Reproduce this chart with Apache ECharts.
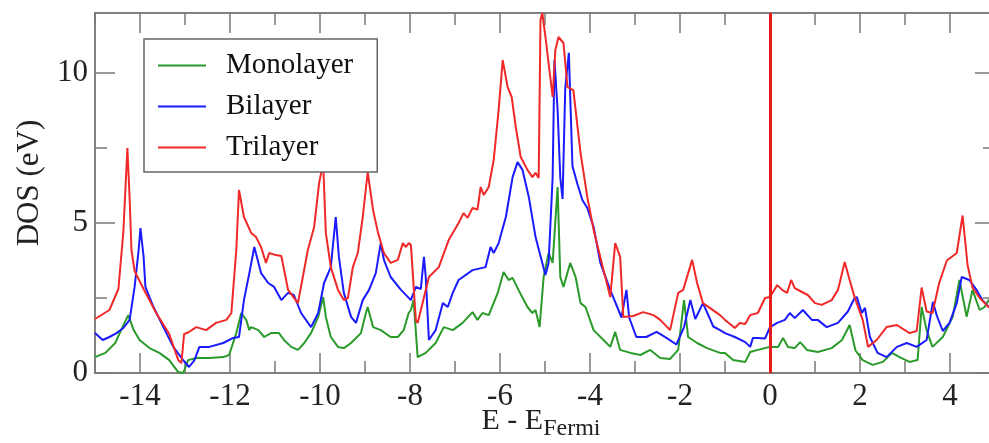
<!DOCTYPE html>
<html>
<head>
<meta charset="utf-8">
<script src="https://cdn.jsdelivr.net/npm/echarts@6/dist/echarts.min.js"></script>
<style>
  html, body { margin: 0; padding: 0; background: #fff; }
  #chart { width: 989px; height: 443px; }
</style>
</head>
<body>
<div id="chart"></div>
<script>
// DOS curves, [E - E_Fermi, DOS]
var monolayer = [
  [-15.0,0.53],[-14.77,0.67],[-14.55,1.0],[-14.39,1.53],[-14.26,1.93],[-14.14,1.43],[-14.01,1.1],[-13.79,0.83],
  [-13.57,0.67],[-13.35,0.43],[-13.15,0.03],[-13.04,0.0],[-12.93,0.43],[-12.75,0.5],[-12.46,0.5],[-12.15,0.53],
  [-12.02,0.6],[-11.86,1.33],[-11.75,2.0],[-11.64,1.77],[-11.57,1.43],[-11.53,1.53],[-11.37,1.43],[-11.24,1.2],
  [-11.09,1.33],[-10.91,1.33],[-10.80,1.1],[-10.64,0.87],[-10.49,0.77],[-10.35,1.0],[-10.20,1.33],[-10.04,1.87],
  [-9.93,2.53],[-9.87,1.87],[-9.76,1.2],[-9.60,0.87],[-9.47,0.83],[-9.31,1.0],[-9.09,1.33],[-8.98,2.0],[-8.94,2.2],
  [-8.82,1.53],[-8.65,1.43],[-8.43,1.2],[-8.27,1.2],[-8.14,1.43],[-8.03,2.0],[-7.98,2.1],[-7.92,2.43],[-7.83,0.53],
  [-7.65,0.67],[-7.43,1.0],[-7.25,1.53],[-7.05,1.43],[-6.83,1.67],[-6.61,2.03],[-6.50,1.77],[-6.39,2.0],[-6.25,1.93],
  [-6.05,2.67],[-5.92,3.37],[-5.81,3.1],[-5.72,3.17],[-5.59,2.77],[-5.39,2.2],[-5.28,2.0],[-5.21,2.1],[-5.12,1.53],
  [-5.03,3.2],[-4.92,4.0],[-4.83,3.67],[-4.72,6.2],[-4.66,3.2],[-4.59,2.87],[-4.44,3.67],[-4.32,3.2],[-4.21,2.33],
  [-4.10,2.2],[-3.92,1.43],[-3.70,1.1],[-3.55,0.87],[-3.44,1.37],[-3.33,0.77],[-3.10,0.67],[-2.88,0.6],[-2.66,0.77],
  [-2.44,0.5],[-2.22,0.47],[-2.04,0.77],[-1.91,2.43],[-1.82,1.2],[-1.62,1.0],[-1.40,0.83],[-1.11,0.67],[-1.0,0.67],
  [-0.82,0.43],[-0.55,0.37],[-0.44,0.7],[-0.27,0.77],[0,0.87],[0.18,0.87],[0.29,1.17],[0.40,0.87],[0.55,0.83],
  [0.67,1.03],[0.82,0.77],[1.06,0.7],[1.37,0.83],[1.60,1.1],[1.77,1.6],[1.90,0.75],[2.06,0.43],[2.28,0.27],
  [2.51,0.37],[2.71,0.67],[2.88,0.53],[3.10,0.37],[3.28,0.43],[3.37,2.2],[3.48,1.43],[3.61,0.87],[3.84,1.2],
  [4.06,1.87],[4.21,3.1],[4.37,1.87],[4.50,2.77],[4.66,2.1],[4.77,2.2],[4.86,2.43],[5.0,2.3]
];
var bilayer = [
  [-15.0,1.33],[-14.83,1.1],[-14.68,1.2],[-14.52,1.33],[-14.37,1.5],[-14.23,1.77],[-14.12,2.87],[-14.03,4.1],
  [-13.99,4.83],[-13.92,3.87],[-13.88,2.87],[-13.70,2.2],[-13.48,1.53],[-13.26,0.87],[-13.04,0.43],[-12.91,0.2],
  [-12.79,0.43],[-12.68,0.87],[-12.46,0.87],[-12.15,1.0],[-11.93,1.17],[-11.80,1.2],[-11.69,2.43],[-11.57,3.33],
  [-11.46,4.2],[-11.31,3.33],[-11.15,3.0],[-11.02,2.87],[-10.86,2.43],[-10.71,2.67],[-10.58,2.6],[-10.42,2.0],
  [-10.20,1.53],[-10.04,2.0],[-9.91,3.0],[-9.76,3.53],[-9.65,5.2],[-9.58,3.87],[-9.47,2.67],[-9.31,1.87],[-9.20,1.67],
  [-9.05,2.43],[-8.91,2.77],[-8.76,3.33],[-8.65,4.33],[-8.58,3.77],[-8.43,3.2],[-8.20,2.77],[-7.98,2.43],[-7.87,2.87],
  [-7.76,2.8],[-7.69,3.87],[-7.65,3.2],[-7.58,1.1],[-7.43,1.43],[-7.27,2.33],[-7.16,2.2],[-7.05,2.67],[-6.92,3.1],
  [-6.61,3.43],[-6.32,3.53],[-6.21,4.2],[-6.14,4.0],[-6.03,4.33],[-5.87,5.2],[-5.72,6.53],[-5.61,7.03],[-5.50,6.77],
  [-5.36,5.87],[-5.21,4.53],[-5.06,3.67],[-4.99,3.27],[-4.92,3.67],[-4.83,6.53],[-4.79,10.43],[-4.72,8.77],
  [-4.66,6.5],[-4.61,5.8],[-4.55,9.5],[-4.47,10.67],[-4.39,6.9],[-4.28,6.3],[-4.17,5.77],[-4.06,5.5],[-3.92,4.87],
  [-3.77,3.67],[-3.55,2.77],[-3.30,1.85],[-3.19,2.77],[-3.13,1.85],[-2.97,1.2],[-2.75,1.2],[-2.52,1.37],[-2.30,1.17],
  [-2.08,0.95],[-1.91,1.53],[-1.77,2.43],[-1.66,1.8],[-1.49,2.33],[-1.26,1.55],[-1.11,1.43],[-1.0,1.33],[-0.78,1.2],
  [-0.55,1.03],[-0.44,0.87],[-0.38,1.17],[-0.27,1.17],[-0.11,1.15],[0,1.53],[0.16,1.67],[0.33,1.77],[0.44,2.0],
  [0.55,1.83],[0.73,2.1],[0.93,1.77],[1.06,1.77],[1.26,1.53],[1.51,1.67],[1.73,2.05],[1.88,2.5],[1.93,2.53],
  [2.04,2.0],[2.11,2.17],[2.22,1.2],[2.39,0.67],[2.59,0.53],[2.82,0.87],[3.04,1.0],[3.26,0.87],[3.48,1.1],[3.62,2.37],
  [3.71,1.9],[3.84,1.4],[3.99,1.67],[4.15,2.33],[4.26,3.2],[4.43,3.1],[4.59,2.77],[4.72,2.43],[4.86,2.2],[5.0,2.1]
];
var trilayer = [
  [-15.0,1.8],[-14.68,2.1],[-14.48,2.8],[-14.37,4.7],[-14.28,7.5],[-14.23,5.8],[-14.19,4.1],[-14.12,3.4],[-13.92,2.8],
  [-13.64,2.0],[-13.35,1.3],[-13.15,0.43],[-13.08,0.33],[-13.02,1.3],[-12.93,1.35],[-12.75,1.53],[-12.53,1.43],
  [-12.31,1.67],[-12.08,1.77],[-11.97,2.0],[-11.86,4.1],[-11.80,6.1],[-11.69,5.2],[-11.53,4.67],[-11.42,4.53],
  [-11.31,4.2],[-11.20,3.67],[-11.13,4.0],[-10.98,3.93],[-10.86,3.9],[-10.71,2.77],[-10.49,2.33],[-10.27,4.1],
  [-10.13,4.87],[-10.02,6.33],[-9.93,7.0],[-9.87,4.67],[-9.76,3.53],[-9.60,2.77],[-9.47,2.43],[-9.38,2.5],[-9.27,3.53],
  [-9.16,4.0],[-9.05,5.2],[-8.94,6.7],[-8.82,5.43],[-8.71,4.67],[-8.58,4.0],[-8.43,3.67],[-8.27,3.77],[-8.16,4.33],
  [-8.09,4.2],[-8.03,4.33],[-7.98,4.27],[-7.94,4.3],[-7.87,1.77],[-7.83,1.67],[-7.72,2.33],[-7.58,3.2],[-7.36,3.53],
  [-7.14,4.43],[-6.92,5.0],[-6.81,5.33],[-6.72,5.17],[-6.61,5.5],[-6.50,5.45],[-6.43,6.2],[-6.36,5.93],[-6.25,6.2],
  [-6.14,7.1],[-6.03,8.77],[-5.94,10.43],[-5.83,9.53],[-5.74,9.2],[-5.65,8.2],[-5.54,7.2],[-5.39,6.77],[-5.28,6.53],
  [-5.21,6.67],[-5.14,6.5],[-5.10,11.77],[-5.06,12.0],[-4.99,11.2],[-4.83,9.2],[-4.77,10.77],[-4.70,11.2],[-4.59,11.0],
  [-4.50,9.53],[-4.37,9.43],[-4.21,7.33],[-4.06,5.87],[-3.92,4.77],[-3.70,3.43],[-3.55,2.53],[-3.44,4.33],[-3.33,3.87],
  [-3.26,1.87],[-3.04,1.9],[-2.82,2.03],[-2.59,1.93],[-2.44,1.77],[-2.22,1.43],[-2.04,2.67],[-1.93,2.77],[-1.73,3.77],
  [-1.62,3.0],[-1.49,2.33],[-1.11,1.93],[-1.0,1.77],[-0.78,1.5],[-0.67,1.67],[-0.55,1.63],[-0.44,1.93],[-0.27,2.0],
  [-0.11,2.5],[0,2.53],[0.16,2.93],[0.27,2.77],[0.38,2.67],[0.47,3.1],[0.55,2.83],[0.71,2.7],[0.84,2.6],[1.0,2.33],
  [1.15,2.27],[1.37,2.43],[1.51,2.77],[1.66,3.7],[1.77,3.1],[1.88,2.53],[2.06,1.77],[2.18,0.87],[2.37,1.1],[2.59,1.53],
  [2.82,1.6],[3.10,1.33],[3.26,1.4],[3.37,2.85],[3.48,2.05],[3.61,2.0],[3.76,3.0],[3.93,3.75],[4.15,4.0],[4.28,5.25],
  [4.39,3.6],[4.50,2.85],[4.66,2.5],[4.86,2.2],[5.0,2.1]
];
var seriesNames = ['Monolayer', 'Bilayer', 'Trilayer'];
var xMajor = [-14, -12, -10, -8, -6, -4, -2, 0, 2, 4];
var xMinor = [-15, -13, -11, -9, -7, -5, -3, -1, 1, 3, 5];
var yMajor = [0, 5, 10];
var yMinor = [2.5, 7.5];
var fermiLevel = 0;

var serif = 'Liberation Serif';
var frame = { color: '#7a7a7a', width: 1.5 };

// one axis for the long ticks, one for the short ones, on each side
function xAx(pos, ticks, len, labels) {
  return {
    type: 'value', min: -15, max: 5, position: pos,
    axisLine: { show: true, onZero: false, lineStyle: frame },
    axisTick: { show: true, inside: true, length: len, customValues: ticks, lineStyle: frame },
    axisLabel: labels ? { customValues: ticks, fontFamily: serif, fontSize: 31, color: '#222', margin: 8 } : { show: false },
    splitLine: { show: false }
  };
}
function yAx(pos, ticks, len, labels) {
  return {
    type: 'value', min: 0, max: 12, position: pos,
    axisLine: { show: true, onZero: false, lineStyle: frame },
    axisTick: { show: true, inside: true, length: len, customValues: ticks, lineStyle: frame },
    axisLabel: labels ? { customValues: ticks, fontFamily: serif, fontSize: 31, color: '#222', margin: 7 } : { show: false },
    splitLine: { show: false }
  };
}

var xAxes = [xAx('bottom', xMajor, 20, true), xAx('bottom', xMinor, 12, false), xAx('top', xMajor, 20, false), xAx('top', xMinor, 12, false)];
xAxes[0].name = '{a|E - E}{b|Fermi}';
xAxes[0].nameLocation = 'middle';
xAxes[0].nameGap = 29;
xAxes[0].nameMoveOverlap = false;
xAxes[0].nameTextStyle = {
  padding: [0, 8, 0, 0],
  rich: {
    a: { fontFamily: serif, fontSize: 30, color: '#222' },
    b: { fontFamily: serif, fontSize: 24, color: '#222', padding: [15, 0, 0, 0] }
  }
};

var yAxes = [yAx('left', yMajor, 20, true), yAx('left', yMinor, 12, false), yAx('right', yMajor, 20, false), yAx('right', yMinor, 12, false)];
yAxes[0].name = 'DOS (eV)';
yAxes[0].nameLocation = 'middle';
yAxes[0].nameGap = 50;
yAxes[0].nameMoveOverlap = false;
yAxes[0].nameTextStyle = { fontFamily: serif, fontSize: 31, color: '#222', padding: [0, 0, 0, 20] };

var colors = ['#2a9a2a', '#1a1aff', '#f02828'];
var curves = [monolayer, bilayer, trilayer];
var series = [];
for (var i = 0; i < curves.length; i++) {
  series.push({
    name: seriesNames[i],
    type: 'line',
    data: curves[i],
    symbol: 'none',
    lineStyle: { width: 2, color: colors[i] },
    itemStyle: { color: colors[i] },
    animation: false
  });
}
// vertical line at the Fermi level
series[2].markLine = {
  silent: true,
  symbol: ['none', 'none'],
  label: { show: false },
  lineStyle: { color: '#e81c1c', width: 3, type: 'solid' },
  data: [{ xAxis: fermiLevel }]
};

var chart = echarts.init(document.getElementById('chart'));
chart.setOption({
  backgroundColor: '#fff',
  animation: false,
  grid: { left: 95, right: -6, top: 13, bottom: 70, outerBoundsMode: 'none' },
  legend: {
    data: seriesNames,
    orient: 'vertical',
    left: 144,
    top: 39,
    itemWidth: 48,
    itemHeight: 28,
    itemGap: 12,
    padding: [12, 24, 10, 13],
    backgroundColor: '#fff',
    borderColor: '#666',
    borderWidth: 1.5,
    itemStyle: { opacity: 0 },
    textStyle: { fontFamily: serif, fontSize: 29, color: '#111', padding: [0, 0, 0, 15] }
  },
  xAxis: xAxes,
  yAxis: yAxes,
  series: series
});
</script>
</body>
</html>
